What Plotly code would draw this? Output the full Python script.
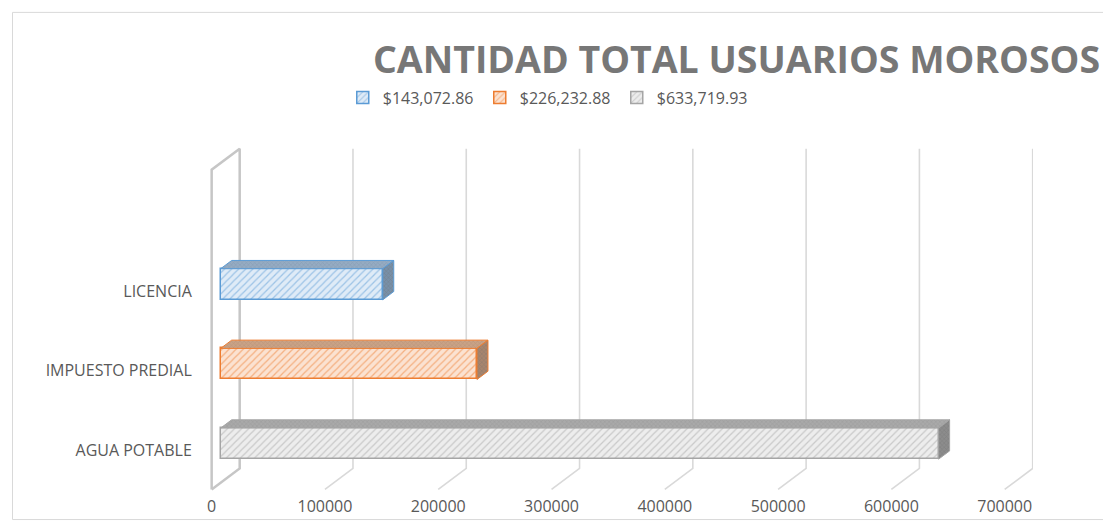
import plotly.graph_objects as go

# ---------------- data ----------------
categories = ["AGUA POTABLE", "IMPUESTO PREDIAL", "LICENCIA"]
values = [633719.93, 226232.88, 143072.86]
legend_order = [2, 1, 0]  # LICENCIA, IMPUESTO, AGUA
x_ticks = [0, 100000, 200000, 300000, 400000, 500000, 600000, 700000]
title_text = "CANTIDAD TOTAL USUARIOS MOROSOS"

# ---------------- style ----------------
PAGE_OFF = 8            # browser default body margin
FIG_W, FIG_H = 1103, 513
edge_colors = ["#a5a5a5", "#ed7d31", "#5b9bd5"]
face_bg = ["#ededed", "#fbe2d1", "#dfebf7"]
top_colors = ["#a9a9a9", "#c9a286", "#95abc2"]
side_colors = ["#8c8c8c", "#a8856d", "#7890a8"]
label_color = "#595959"
grid_color = "#d9d9d9"
wall_color = "#c6c6c6"
FONT = "Open Sans"

PX_PER_X = 113.2 / 100000.0
PX_PER_Y = 79.5
X0_PX = 212.0 - PAGE_OFF   # value 0 on the front plane
Y0_PX = 450.0 - PAGE_OFF   # first category on the front plane
x_range = [-5000, 725000]
y_range = [-0.56, 3.82]
l = X0_PX + x_range[0] * PX_PER_X
plot_w = (x_range[1] - x_range[0]) * PX_PER_X
r = FIG_W - l - plot_w
t = Y0_PX - y_range[1] * PX_PER_Y
plot_h = (y_range[1] - y_range[0]) * PX_PER_Y
b = FIG_H - t - plot_h

DX = 28 / PX_PER_X     # full depth, x data units
DY = 21 / PX_PER_Y     # full depth, y data units
f1, f2 = 9 / 28, 20 / 28
BAR_H = 31 / PX_PER_Y
y_floor = (Y0_PX - (489 - PAGE_OFF)) / PX_PER_Y
y_top = (Y0_PX - (170 - PAGE_OFF)) / PX_PER_Y

fig = go.Figure()

# walls / gridlines
for tv in x_ticks:
    if tv == 0:
        xs = [tv, tv, tv + DX, tv + DX, tv]
        ys = [y_floor, y_top, y_top + DY, y_floor + DY, y_floor]
        col, w = wall_color, 2.5
    else:
        xs = [tv, tv + DX, tv + DX]
        ys = [y_floor, y_floor + DY, y_top + DY]
        col, w = grid_color, 1.6
    fig.add_trace(go.Scatter(x=xs, y=ys, mode="lines", line=dict(color=col, width=w),
                             showlegend=False, hoverinfo="skip", zorder=0))

# bars (front faces)
for idx in legend_order:
    v = values[idx]
    yc = idx + f1 * DY
    fig.add_trace(go.Bar(
        y=[yc], x=[v], base=[f1 * DX], width=[BAR_H], orientation="h",
        name="${:,.2f}".format(v),
        marker=dict(color=face_bg[idx], line=dict(color=edge_colors[idx], width=1.5),
                    pattern=dict(shape="/", fgcolor=edge_colors[idx], bgcolor=face_bg[idx],
                                 size=5, solidity=0.25)),
        zorder=1, hoverinfo="skip"))

# bars (top and side faces)
for idx in range(len(values)):
    v = values[idx]
    yc = idx + f1 * DY
    x0, x1 = f1 * DX, v + f1 * DX
    yt, yb = yc + BAR_H / 2, yc - BAR_H / 2
    ddx, ddy = (f2 - f1) * DX, (f2 - f1) * DY
    fig.add_trace(go.Scatter(
        x=[x0, x1, x1 + ddx, x0 + ddx, x0], y=[yt, yt, yt + ddy, yt + ddy, yt],
        mode="lines", fill="toself", fillcolor=top_colors[idx],
        fillpattern=dict(shape="x", fgcolor=side_colors[idx], bgcolor=top_colors[idx], size=3, solidity=0.3),
        line=dict(color=edge_colors[idx], width=1), showlegend=False, hoverinfo="skip", zorder=2))
    fig.add_trace(go.Scatter(
        x=[x1, x1 + ddx, x1 + ddx, x1, x1], y=[yt, yt + ddy, yb + ddy, yb, yt],
        mode="lines", fill="toself", fillcolor=side_colors[idx],
        fillpattern=dict(shape="x", fgcolor="#6f6f6f", bgcolor=side_colors[idx], size=3, solidity=0.3),
        line=dict(color=edge_colors[idx], width=1), showlegend=False, hoverinfo="skip", zorder=2))


def px_to_paper_x(px_page):
    return (px_page - PAGE_OFF - l) / plot_w


def px_to_paper_y(py_page):
    return (FIG_H - b - (py_page - PAGE_OFF)) / plot_h


fig.add_shape(type="rect", xref="paper", yref="paper",
              x0=px_to_paper_x(6 + PAGE_OFF - 1), x1=px_to_paper_x(min(1108, FIG_W + PAGE_OFF - 1)),
              y0=px_to_paper_y(min(519, FIG_H + PAGE_OFF - 1)), y1=px_to_paper_y(6 + PAGE_OFF - 1),
              line=dict(color="#d9d9d9", width=1), layer="below")

fig.update_layout(
    width=FIG_W, height=FIG_H,
    margin=dict(l=l, r=r, t=t, b=b, pad=0, autoexpand=False),
    paper_bgcolor="white", plot_bgcolor="white",
    title=dict(text="<b>" + title_text + "</b>", x=(736.5 - PAGE_OFF) / FIG_W, xanchor="center",
               y=1 - (60 - PAGE_OFF) / FIG_H, yanchor="middle", yref="container",
               font=dict(family=FONT, size=37.5, color="#777777")),
    showlegend=True,
    legend=dict(orientation="h", x=px_to_paper_x(343), xanchor="left",
                y=px_to_paper_y(81), yanchor="top",
                font=dict(family=FONT, size=16, color=label_color),
                entrywidth=92, entrywidthmode="pixels", bgcolor="rgba(0,0,0,0)"),
    xaxis=dict(range=x_range, tickvals=x_ticks, ticktext=[str(v) for v in x_ticks],
               showgrid=False, zeroline=False, showline=False, ticks="", automargin=False,
               tickfont=dict(family=FONT, size=16, color=label_color)),
    yaxis=dict(range=y_range, tickvals=list(range(len(categories))), ticktext=categories,
               showgrid=False, zeroline=False, showline=False, automargin=False,
               ticks="outside", ticklen=10, tickcolor="rgba(0,0,0,0)",
               tickfont=dict(family=FONT, size=16, color=label_color)),
    bargap=0, barmode="overlay",
)

fig.write_html("out.html")
